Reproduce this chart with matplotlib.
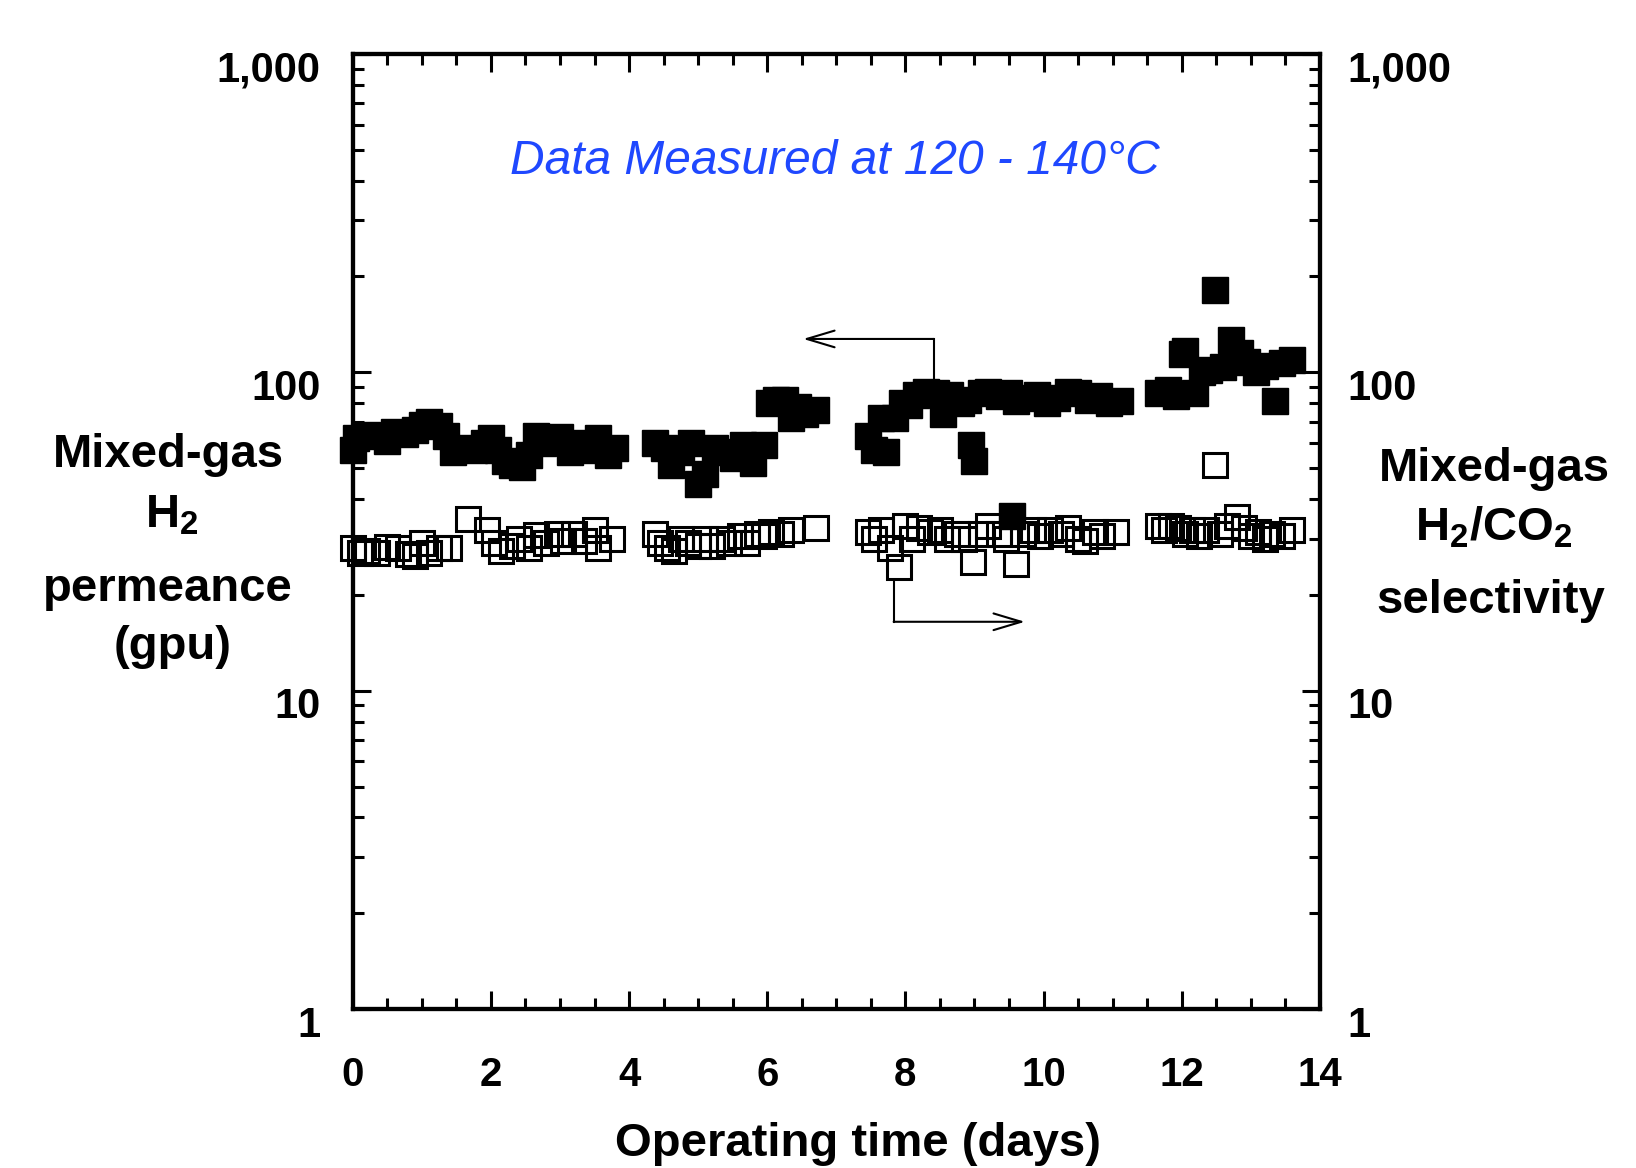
import matplotlib
matplotlib.use("Agg")
import matplotlib.pyplot as plt
import matplotlib.transforms as mtransforms
from matplotlib.ticker import FixedLocator, MultipleLocator, LogLocator, NullFormatter

plt.rcParams['font.family'] = ['Liberation Sans', 'DejaVu Sans']
plt.rcParams['font.weight'] = 'bold'
plt.rcParams['mathtext.fontset'] = 'custom'
plt.rcParams['mathtext.rm'] = 'Liberation Sans:bold'
plt.rcParams['mathtext.bf'] = 'Liberation Sans:bold'
plt.rcParams['mathtext.it'] = 'Liberation Sans:bold'

# H2 permeance (gpu), filled squares
perm_days = [0.0, 0.05, 0.2, 0.35, 0.5, 0.6, 0.75, 0.9, 1.0, 1.1, 1.25, 1.35, 1.45, 1.6, 1.75, 1.9,
             2.0, 2.1, 2.2, 2.3, 2.45, 2.55, 2.65, 2.75, 2.9, 3.0, 3.15, 3.3, 3.45, 3.55, 3.7, 3.8,
             4.37, 4.5, 4.6, 4.75, 4.9, 5.0, 5.1, 5.25, 5.4, 5.5, 5.65, 5.8, 5.95,
             6.02, 6.12, 6.25, 6.35, 6.45, 6.55, 6.7,
             7.46, 7.55, 7.65, 7.72, 7.85, 7.95, 8.05, 8.15, 8.3, 8.45, 8.55, 8.65, 8.8, 8.9,
             8.95, 9.0, 9.1, 9.2, 9.35, 9.5, 9.55, 9.6, 9.75, 9.9, 10.05, 10.2, 10.35, 10.5,
             10.65, 10.8, 10.95, 11.1,
             11.66, 11.8, 11.92, 12.0, 12.05, 12.19, 12.3, 12.4, 12.48, 12.6, 12.72, 12.85,
             12.95, 13.08, 13.2, 13.35, 13.45, 13.6]
perm_vals = [57, 62, 63.5, 63, 61, 65, 64, 66, 68.5, 70, 68, 63, 56, 58, 57, 60,
             62, 57, 52.7, 51, 50.5, 55, 63, 60, 62, 62.5, 56, 60, 57, 62, 55, 58,
             60, 58, 51, 56, 60, 44.5, 48, 58, 56, 54, 59, 52, 59,
             80, 82, 82, 72, 78, 74, 76,
             63, 57, 72, 56, 72, 80, 79, 85, 87, 86, 74, 85, 80, 82,
             59, 52.5, 86, 87, 84, 86, 35.5, 81, 83, 85, 80, 83, 87, 86,
             82, 84, 80, 81,
             86, 88, 84, 114, 117, 86, 100, 102, 181, 104, 126, 115,
             108, 100, 105, 81, 107, 109]

# H2/CO2 selectivity, open squares
sel_days = [0.0, 0.1, 0.2, 0.35, 0.5, 0.65, 0.8, 0.9, 1.0, 1.1, 1.25, 1.4, 1.67, 1.95,
            2.05, 2.15, 2.3, 2.4, 2.55, 2.65, 2.8, 2.95, 3.05, 3.2, 3.35, 3.5, 3.55, 3.75,
            4.37, 4.45, 4.55, 4.65, 4.75, 4.85, 5.0, 5.1, 5.2, 5.35, 5.45, 5.6, 5.7, 5.85,
            5.95, 6.05, 6.2, 6.35, 6.7,
            7.46, 7.55, 7.65, 7.78, 7.91, 8.0, 8.1, 8.2, 8.35, 8.5, 8.6, 8.75, 8.85, 8.98,
            9.1, 9.2, 9.35, 9.45, 9.6, 9.7, 9.85, 9.95, 10.1, 10.25, 10.35, 10.5, 10.6,
            10.75, 10.85, 11.05,
            11.66, 11.75, 11.85, 11.95, 12.05, 12.15, 12.25, 12.35, 12.48, 12.55, 12.65,
            12.8, 12.9, 13.0, 13.1, 13.2, 13.3, 13.45, 13.6]
sel_vals = [28, 27, 27.5, 27, 28.3, 28, 26.8, 26.5, 29, 27, 28, 28, 34.5, 32,
            29, 27.5, 28.5, 30, 28, 30.8, 29, 31, 29.5, 31, 29.5, 32, 28, 30,
            31, 29, 28, 27.5, 30, 29, 28.5, 30, 28.5, 30, 29, 30.5, 29, 31,
            30.5, 31.5, 31, 32, 32.5,
            31.5, 30, 32, 28, 24.5, 33, 30, 32.5, 31.5, 32, 30, 31, 30, 25.4,
            31, 33, 31, 30, 25, 31, 32, 30.5, 32, 31, 32.5, 30, 29.5,
            31.5, 30.5, 31.5,
            33, 32, 33, 32.5, 31, 32, 30.5, 32, 51, 31, 33,
            35, 32.5, 30.5, 31.5, 30, 31, 30.5, 32]

ytick_vals = [1, 10, 100, 1000]
ytick_labels = ['1', '10', '100', '1,000']

# arrow annotations (day, value)
left_arrow = dict(corner=(8.41, 127.3), start=90.6, tip=6.52)
right_arrow = dict(corner=(7.83, 16.46), start=22.2, tip=9.73)

fig = plt.figure(figsize=(16.36, 11.68), dpi=100)
ax = fig.add_axes([0.2156, 0.1361, 0.5912, 0.8177])
ax2 = ax.twinx()

ax.plot(perm_days, perm_vals, 's', ms=18.5, mfc='black', mec='black', mew=1.0,
        linestyle='none', clip_on=False)
ax2.plot(sel_days, sel_vals, 's', ms=17.3, mfc='none', mec='black', mew=2.2,
         linestyle='none', clip_on=False)

for a in (ax, ax2):
    a.set_yscale('log')
    a.set_ylim(1, 1000)
    a.yaxis.set_major_locator(FixedLocator(ytick_vals))
    a.yaxis.set_minor_locator(LogLocator(base=10, subs=range(2, 10)))
    a.yaxis.set_minor_formatter(NullFormatter())
    a.set_yticklabels(ytick_labels)
    for s in a.spines.values():
        s.set_linewidth(3)
ax.set_xlim(0, 14)
ax.xaxis.set_major_locator(MultipleLocator(2))
ax.xaxis.set_minor_locator(MultipleLocator(0.5))

ax.tick_params(which='major', direction='in', length=13, width=2.2, labelsize=29)
ax.tick_params(which='minor', direction='in', length=8, width=2.2)
ax.tick_params(axis='x', which='both', top=True, bottom=True, pad=34)
ax.tick_params(axis='y', which='both', left=True, right=False, pad=23, labelsize=30)
ax2.tick_params(axis='y', which='major', direction='in', length=13, width=2.2, labelsize=30, pad=20)
ax2.tick_params(axis='y', which='minor', direction='in', length=8, width=2.2)

# tick labels sit a little below their ticks
shift = mtransforms.ScaledTranslation(0, -0.12, fig.dpi_scale_trans)
for lab in ax.get_yticklabels() + ax2.get_yticklabels():
    lab.set_transform(lab.get_transform() + shift)

# arrows
for arr in (left_arrow, right_arrow):
    x0, y0 = arr['corner']
    ax.plot([x0, x0], [arr['start'], y0], color='black', lw=1.5)
    ax.annotate('', xy=(arr['tip'], y0), xytext=(x0, y0),
                arrowprops=dict(arrowstyle='->,head_length=2.0,head_width=0.6', lw=1.5,
                                color='black', shrinkA=0, shrinkB=0, mutation_scale=10))

ax.text(0.4986, 0.887, 'Data Measured at 120 - 140\u00b0C', transform=ax.transAxes,
        ha='center', va='center', fontsize=34.5, style='italic', fontweight='normal',
        color='#1f48ff')

# axis titles
fig.text(858 / 1636, 12 / 1168, 'Operating time (days)', ha='center', va='baseline',
         fontsize=34, fontweight='bold')

left_lines = [('Mixed-gas', 168, 467), ('H$_2$', 172, 527), ('permeance', 168, 601), ('(gpu)', 173, 659)]
right_lines = [('Mixed-gas', 1494, 481), ('H$_2$/CO$_2$', 1494, 541), ('selectivity', 1491, 613)]
for txt, px, py in left_lines + right_lines:
    fig.text(px / 1636, 1 - py / 1168, txt, ha='center', va='baseline',
             fontsize=34, fontweight='bold')

fig.savefig('out.png', dpi=100)
